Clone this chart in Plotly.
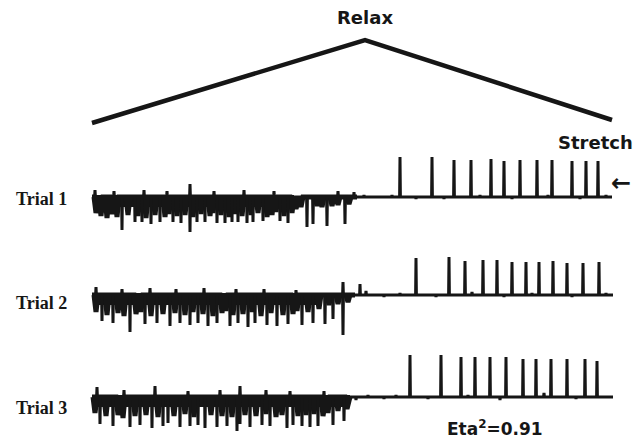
import plotly.graph_objects as go

# ---- time base (s) -------------------------------------------------------
trace_start = 0.0
trace_end = [26.0, 26.05, 26.05]

# ---- muscle ramp: stretched -> relaxed -> stretched ----------------------
ramp_t = [0.0, 13.65, 26.0]
ramp_pos = [7, 90, 10]

# ---- burst phase (relaxed side): band extent and downward spikes ---------
burst_end = [13.25, 13.15, 12.9]
band_end = [10.1, 11.4, 12.9]

long_t_1 = [1.50, 2.15, 2.50, 2.95, 3.40, 4.05, 4.45, 4.90, 5.25, 5.65, 6.25, 6.65,
            7.00, 7.30, 7.75, 8.05, 8.55, 9.40, 9.80, 10.75, 11.05, 11.75, 12.65]
long_a_1 = [-33, -25, -25, -27, -25, -25, -26, -35, -25, -25, -26, -26,
            -25, -25, -26, -25, -24, -24, -26, -30, -27, -29, -27]

long_t_2 = [0.50, 1.05, 1.90, 2.65, 3.25, 3.90, 4.40, 4.90, 5.30, 5.80, 6.25, 6.90,
            7.30, 7.80, 8.15, 8.75, 9.25, 9.80, 10.50, 11.05, 11.65, 12.05, 12.55]
long_a_2 = [-26, -28, -37, -29, -28, -31, -28, -30, -28, -31, -28, -31,
            -28, -32, -28, -30, -31, -29, -30, -28, -29, -24, -40]

long_t_3 = [0.40, 1.05, 1.90, 2.40, 3.00, 3.55, 3.80, 4.40, 4.90, 5.30, 5.65, 6.25,
            6.75, 7.25, 7.40, 7.90, 8.50, 8.90, 9.75, 10.05, 10.50, 10.90, 11.30,
            12.05, 12.60]
long_a_3 = [-27, -29, -30, -28, -31, -29, -26, -30, -29, -28, -31, -30,
            -29, -34, -27, -30, -28, -29, -31, -28, -29, -30, -29, -28, -24]

stub_t_1 = [0.20, 0.45, 0.75, 1.00, 1.25, 1.80, 2.30, 2.70, 3.15, 3.65, 3.85, 4.25,
            4.65, 5.05, 5.45, 5.90, 6.05, 6.45, 6.85, 7.15, 7.50, 7.95, 8.30, 8.75,
            9.00, 9.20, 9.60, 10.00, 10.20, 10.45, 11.25, 11.50, 12.00, 12.30, 12.85]
stub_a_1 = [-16, -19, -21, -17, -20, -18, -19, -21, -18, -20, -17, -19,
            -18, -20, -17, -19, -16, -18, -20, -17, -19, -18, -16, -20,
            -18, -15, -19, -16, -12, -10, -9, -10, -9, -8, -7]

stub_t_2 = [0.20, 0.75, 1.30, 1.60, 2.20, 2.45, 2.95, 3.55, 4.15, 4.65, 5.05, 5.55,
            6.05, 6.50, 6.70, 7.05, 7.55, 8.00, 8.45, 8.95, 9.55, 10.05, 10.25,
            10.80, 11.35, 11.85, 12.30, 12.80]
stub_a_2 = [-17, -20, -18, -21, -19, -17, -21, -19, -18, -20, -17, -19,
            -21, -18, -16, -20, -19, -17, -21, -18, -20, -19, -16,
            -17, -14, -10, -9, -7]

stub_t_3 = [0.15, 0.70, 1.30, 1.55, 2.15, 2.70, 3.30, 4.10, 4.65, 5.10, 5.95, 6.50,
            7.00, 7.65, 8.20, 8.70, 9.20, 9.50, 10.30, 10.70, 11.10, 11.55, 11.80,
            12.30, 12.75]
stub_a_3 = [-16, -19, -18, -21, -19, -18, -20, -19, -17, -20, -18, -19,
            -20, -18, -19, -17, -20, -18, -19, -18, -17, -19, -16, -14, -12]

# small upward deflections riding on the burst band
up_t_1 = [0.15, 1.10, 2.60, 3.75, 4.90, 6.10, 7.60, 9.10, 12.30, 13.10]
up_a_1 = [7, 6, 7, 6, 13, 6, 7, 6, 6, 5]
up_t_2 = [0.20, 1.50, 2.90, 4.20, 5.60, 7.20, 8.60, 10.20, 12.55]
up_a_2 = [8, 6, 7, 6, 7, 6, 6, 5, 13]
up_t_3 = [0.25, 1.60, 3.15, 4.80, 6.40, 7.40, 8.70, 9.90, 11.60]
up_a_3 = [10, 7, 11, 6, 7, 11, 7, 6, 6]

# ---- stretch phase: upward spikes ---------------------------------------
rise_t_1 = [15.40, 17.00, 18.10, 18.95, 19.95, 20.60, 21.40, 22.25, 23.00, 24.00, 24.70, 25.30]
rise_a_1 = [40, 40, 37, 37, 38, 36, 37, 37, 37, 36, 36, 36]

rise_t_2 = [16.20, 17.85, 18.65, 19.55, 20.25, 21.00, 21.70, 22.35, 23.05, 23.75, 24.55, 25.35]
rise_a_2 = [37, 38, 34, 35, 35, 33, 33, 33, 34, 32, 32, 33]

rise_t_3 = [15.90, 17.45, 18.45, 19.15, 19.90, 20.70, 21.55, 22.20, 22.95, 23.75, 24.65, 25.25]
rise_a_3 = [42, 42, 40, 40, 40, 40, 38, 38, 38, 38, 38, 36]

# baseline ripple during the stretch phase
rip_t_1 = [13.60, 14.30, 15.00, 16.20, 17.60, 19.40, 21.00, 22.80, 24.40, 25.70]
rip_a_1 = [2, -1, 2, -2, -2, 2, -2, 2, -2, 2]
rip_t_2 = [13.40, 13.70, 14.60, 15.40, 17.20, 19.00, 20.60, 22.00, 24.00, 25.70]
rip_a_2 = [11, 4, -2, 2, -2, 3, -2, 2, -2, 2]
rip_t_3 = [13.20, 13.80, 14.60, 15.20, 16.80, 18.80, 20.40, 22.60, 24.20, 25.80]
rip_a_3 = [-3, 2, -2, 2, -2, 2, -3, 4, -2, 1]

trials = ["Trial 1", "Trial 2", "Trial 3"]
long_t = [long_t_1, long_t_2, long_t_3]
long_a = [long_a_1, long_a_2, long_a_3]
stub_t = [stub_t_1, stub_t_2, stub_t_3]
stub_a = [stub_a_1, stub_a_2, stub_a_3]
up_t = [up_t_1, up_t_2, up_t_3]
up_a = [up_a_1, up_a_2, up_a_3]
rise_t = [rise_t_1, rise_t_2, rise_t_3]
rise_a = [rise_a_1, rise_a_2, rise_a_3]
rip_t = [rip_t_1, rip_t_2, rip_t_3]
rip_a = [rip_a_1, rip_a_2, rip_a_3]

INK = "#161616"


def spike_path(times, amps, t0, t1, half):
    """Baseline from t0 to t1 with a narrow deflection at every event."""
    xs, ys = [t0], [0]
    for t, a in sorted(zip(times, amps)):
        xs += [t - half, t, t + half]
        ys += [0, a, 0]
    xs.append(t1)
    ys.append(0)
    return xs, ys


fig = go.Figure()

# ramp on its own axis
fig.add_trace(go.Scatter(x=ramp_t, y=ramp_pos, mode="lines", yaxis="y4",
                         line=dict(color=INK, width=4.5), hoverinfo="skip"))

axis_names = ["y", "y2", "y3"]
for i in range(3):
    ya = axis_names[i]
    # solid band of the burst
    fig.add_trace(go.Scatter(x=[trace_start + 0.1, band_end[i]], y=[-4, -4], mode="lines",
                             yaxis=ya, line=dict(color=INK, width=12), hoverinfo="skip"))
    # broad stubs hanging below the band
    sx, sy = spike_path(stub_t[i], stub_a[i], trace_start, burst_end[i], 0.1)
    fig.add_trace(go.Scatter(x=sx, y=sy, mode="lines", yaxis=ya,
                             line=dict(color=INK, width=5), hoverinfo="skip"))
    # full trace: burst spikes, quiet baseline, stretch spikes
    ev_t = long_t[i] + up_t[i] + rise_t[i] + rip_t[i]
    ev_a = long_a[i] + up_a[i] + rise_a[i] + rip_a[i]
    tx, ty = spike_path(ev_t, ev_a, trace_start, trace_end[i], 0.02)
    fig.add_trace(go.Scatter(x=tx, y=ty, mode="lines", yaxis=ya,
                             line=dict(color=INK, width=3), hoverinfo="skip"))

H = 443.0
half = 45 / H
centers = [1 - 197 / H, 1 - 295 / H, 1 - 397 / H]
label_y = [1 - 199 / H, 1 - 303 / H, 1 - 408 / H]

annotations = []
for i, name in enumerate(trials):
    annotations.append(dict(text="<b>" + name + "</b>", x=41 / 636, y=label_y[i],
                            xref="paper", yref="paper",
                            xanchor="center", yanchor="middle", showarrow=False,
                            font=dict(family="Liberation Serif", size=18, color=INK)))
center = dict(xanchor="center", yanchor="middle", showarrow=False)
annotations += [
    dict(text="<b>Relax</b>", x=13.65, y=1 - 18 / H, xref="x", yref="paper",
         font=dict(family="DejaVu Sans", size=18, color=INK), **center),
    dict(text="<b>Stretch</b>", x=25.15, y=1 - 142 / H, xref="x", yref="paper",
         font=dict(family="DejaVu Sans", size=18, color=INK), **center),
    dict(text="<b>←</b>", x=26.45, y=1 - 183 / H, xref="x", yref="paper",
         font=dict(family="DejaVu Sans", size=24, color=INK), **center),
    dict(text="<b>Eta<sup>2</sup>=0.91</b>", x=20.15, y=1 - 428 / H, xref="x", yref="paper",
         font=dict(family="DejaVu Sans", size=17, color=INK), **center),
]

hidden = dict(visible=False, showgrid=False, zeroline=False, fixedrange=True)
fig.update_layout(
    width=636, height=443,
    margin=dict(l=0, r=0, t=0, b=0),
    paper_bgcolor="white", plot_bgcolor="white",
    showlegend=False,
    xaxis=dict(range=[-92 / 20, 544 / 20], **hidden),
    yaxis=dict(domain=[centers[0] - half, centers[0] + half], range=[-45, 45], **hidden),
    yaxis2=dict(domain=[centers[1] - half, centers[1] + half], range=[-45, 45], **hidden),
    yaxis3=dict(domain=[centers[2] - half, centers[2] + half], range=[-45, 45], **hidden),
    yaxis4=dict(domain=[1 - 130 / H, 1 - 30 / H], range=[0, 100], **hidden),
    annotations=annotations,
)

fig.write_html("out.html")
